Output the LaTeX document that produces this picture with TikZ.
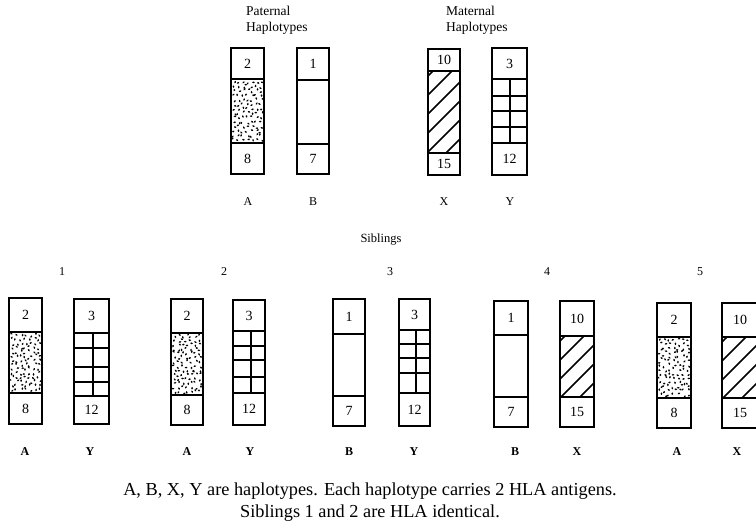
\documentclass[tikz,border=0pt]{standalone}
\usepackage{fontspec}
\setmainfont{Liberation Serif}
\begin{document}
\begin{tikzpicture}[x=1pt,y=-1pt,
  boxline/.style={line width=1.7pt},
  thinline/.style={line width=1.3pt},
  hatchline/.style={line width=1.6pt},
  num/.style={font=\fontsize{14}{14}\selectfont, inner sep=0pt},
  hlabel/.style={font=\fontsize{12}{12}\selectfont, inner sep=0pt},
  slabel/.style={font=\fontsize{12}{12}\selectfont\bfseries, inner sep=0pt},
  heading/.style={font=\fontsize{13.5}{16}\selectfont, inner sep=0pt, align=left, anchor=north west},
  caption/.style={font=\fontsize{18.3}{18.3}\selectfont, inner sep=0pt}]
\useasboundingbox (0,0) rectangle (756,528);

% one haplotype column: name, left, right, top, divider 1, divider 2, bottom, upper antigen, lower antigen
\newcommand{\haplo}[9]{%
  \draw[boxline] (#2,#4) rectangle (#3,#7);
  \draw[boxline] (#2,#5) -- (#3,#5);
  \draw[boxline] (#2,#6) -- (#3,#6);
  \node[num] (#1-top) at ({(#2+#3)/2},{(#4+#5)/2}) {#8};
  \node[num] (#1-bot) at ({(#2+#3)/2},{(#6+#7)/2}) {#9};
}
% stippled middle cell (jittered grid of specks): seed, left, right, top, bottom
\newcommand{\stipple}[5]{%
  \begin{scope}
    \clip (#2,#4) rectangle (#3,#5);
    \pgfmathsetseed{#1}
    \foreach \c in {0,...,6}{%
      \foreach \r in {0,...,13}{%
        \pgfmathsetmacro\px{#2+3+\c*(#3-#2-6)/6+rand*1.8}
        \pgfmathsetmacro\py{#4+3+\r*(#5-#4-6)/13+rand*1.8}
        \pgfmathsetmacro\pa{rnd*180}
        \fill[rotate around={\pa:(\px,\py)}] (\px,\py) ellipse (1.4 and 0.9);
      }
    }
  \end{scope}}
% hatched middle cell: left, right, top, bottom
\newcommand{\hatchcell}[4]{%
  \begin{scope}
    \clip (#1,#3) rectangle (#2,#4);
    \foreach \k in {0,...,10}{%
      \draw[hatchline] ({#1-(#4-#3)+5+\k*19},#4) -- ++(140,-140);
    }
  \end{scope}}
% grid middle cell: left, right, top, bottom, vertical x, row 1, row 2, row 3
\newcommand{\gridcell}[8]{%
  \draw[thinline] (#5,#3) -- (#5,#4);
  \draw[thinline] (#1,#6) -- (#2,#6);
  \draw[thinline] (#1,#7) -- (#2,#7);
  \draw[thinline] (#1,#8) -- (#2,#8);
}

% ---- parents ----
\node[heading] (pat) at (246,6) {Paternal\\Haplotypes};
\node[heading] (mat) at (446,6) {Maternal\\Haplotypes};

\stipple{11}{231}{264}{79}{143}
\haplo{pA}{231}{264}{48}{79}{143}{174}{2}{8}
\haplo{pB}{297}{329}{48}{80}{144}{174}{1}{7}
\hatchcell{428}{460}{71}{153}
\haplo{mX}{428}{460}{49}{71}{153}{175}{10}{15}
\gridcell{492}{527}{79}{143}{510}{96}{111}{127}
\haplo{mY}{492}{527}{48}{79}{143}{175}{3}{12}

\node[hlabel] (lA) at (248,202) {A};
\node[hlabel] (lB) at (313,202) {B};
\node[hlabel] (lX) at (444,202) {X};
\node[hlabel] (lY) at (510,202) {Y};

\node[font=\fontsize{12.5}{12.5}\selectfont, inner sep=0pt] (sib) at (381,240) {Siblings};

% ---- siblings ----
\node[hlabel] (n1) at (62,272) {1};
\node[hlabel] (n2) at (224,272) {2};
\node[hlabel] (n3) at (390,272) {3};
\node[hlabel] (n4) at (547,272) {4};
\node[hlabel] (n5) at (700,272) {5};

% sibling 1
\stipple{21}{9}{42}{332}{393}
\haplo{s1A}{9}{42}{298}{332}{393}{424}{2}{8}
\gridcell{74}{109}{333}{396}{93}{348}{367}{382}
\haplo{s1Y}{74}{109}{299}{333}{396}{424}{3}{12}
% sibling 2
\stipple{37}{171}{203}{333}{395}
\haplo{s2A}{171}{203}{299}{333}{395}{425}{2}{8}
\gridcell{233}{265}{331}{393}{251}{346}{360}{377}
\haplo{s2Y}{233}{265}{300}{331}{393}{425}{3}{12}
% sibling 3
\haplo{s3B}{333}{365}{299}{334}{396}{426}{1}{7}
\gridcell{399}{430}{330}{393}{416}{344}{358}{373}
\haplo{s3Y}{399}{430}{299}{330}{393}{426}{3}{12}
% sibling 4
\haplo{s4B}{494}{528}{301}{335}{397}{427}{1}{7}
\hatchcell{560}{594}{336}{397}
\haplo{s4X}{560}{594}{301}{336}{397}{427}{10}{15}
% sibling 5
\stipple{53}{657}{691}{337}{398}
\haplo{s5A}{657}{691}{303}{337}{398}{428}{2}{8}
\hatchcell{722}{758}{337}{398}
\haplo{s5X}{722}{758}{303}{337}{398}{428}{10}{15}

\node[slabel] (b1) at (25,452) {A};
\node[slabel] (b2) at (90,452) {Y};
\node[slabel] (b3) at (187,452) {A};
\node[slabel] (b4) at (250,452) {Y};
\node[slabel] (b5) at (349,452) {B};
\node[slabel] (b6) at (414,452) {Y};
\node[slabel] (b7) at (515,452) {B};
\node[slabel] (b8) at (577,452) {X};
\node[slabel] (b9) at (677,452) {A};
\node[slabel] (b10) at (737,452) {X};

\node[caption] (cap1) at (370,491) {A, B, X, Y are haplotypes. Each haplotype carries 2 HLA antigens.};
\node[caption] (cap2) at (370,513) {Siblings 1 and 2 are HLA identical.};
\end{tikzpicture}
\end{document}
